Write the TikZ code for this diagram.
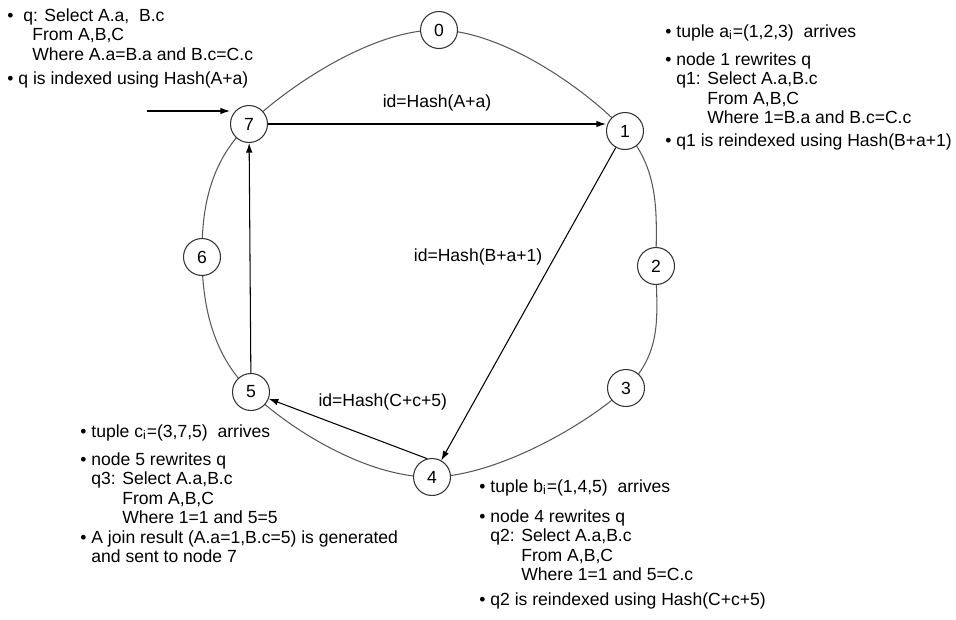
\documentclass[tikz,border=0pt]{standalone}
\usepackage{fontspec}
\setmainfont{Liberation Sans}
\usetikzlibrary{arrows.meta,backgrounds}
\tikzset{font=\fontsize{10pt}{11.1pt}\selectfont}
\tikzstyle{peer}=[circle,draw=black!80,fill=white,minimum size=0.74cm,inner sep=0pt,line width=0.6pt]
\tikzstyle{ring}=[draw=black!65,line width=0.6pt]
\tikzstyle{msg}=[->,line width=0.6pt,>={Latex[length=0.19cm,width=0.13cm]}]
\tikzstyle{notes}=[align=left,anchor=north west,inner sep=0pt]
\newcommand{\bul}{\textbullet\ }
\newcommand{\ind}{\hphantom{\textbullet\ }}

\begin{document}
\begin{tikzpicture}[x=0.02cm,y=-0.02cm]
\useasboundingbox (0,0) rectangle (956,619);
\node[peer] (n0) at (439,30) {0};
\node[peer] (n1) at (625,131) {1};
\node[peer] (n2) at (656,266) {2};
\node[peer] (n3) at (626,388) {3};
\node[peer] (n4) at (432,477) {4};
\node[peer] (n5) at (251,392) {5};
\node[peer] (n6) at (202,257) {6};
\node[peer] (n7) at (249,124) {7};
\coordinate (src) at (147,111);
\begin{scope}[on background layer]
\draw[ring] plot[smooth cycle,tension=0.62] coordinates {(n0.center) (n1.center) (n2.center) (n3.center)
  (n4.center) (n5.center) (n6.center) (n7.center)};
\end{scope}
% messages
\draw[msg] (src) -- (src -| n7.west);
\draw[msg] (n7) -- node[above=0.12cm]{id=Hash(A+a)} (n7 -| n1.west);
\draw[msg] (n1) -- node[pos=0.35,left=0.12cm]{id=Hash(B+a+1)} (n4);
\draw[msg] (n4.105) -- node[pos=0.28,above=0.5cm]{id=Hash(C+c+5)} (n5);
\draw[msg] (n5) -- (n7);
% notes
\node[notes] (qinit) at (7,8) {\textbullet\ \ q: Select A.a,~ B.c\\
\hspace*{0.5cm}From A,B,C\\
\hspace*{0.5cm}Where A.a=B.a and B.c=C.c\\[3pt]
\bul q is indexed using Hash(A+a)};
\node[notes] (qone) at (665,24) {\bul tuple a\textsubscript{i}=(1,2,3)~ arrives\\[5pt]
\bul node 1 rewrites q\\
\ind q1: Select A.a,B.c\\
\ind\hphantom{q1: }From A,B,C\\
\ind\hphantom{q1: }Where 1=B.a and B.c=C.c\\[2pt]
\bul q1 is reindexed using Hash(B+a+1)};
\node[notes] (qthree) at (80,424) {\bul tuple c\textsubscript{i}=(3,7,5)~ arrives\\[5pt]
\bul node 5 rewrites q\\
\ind q3: Select A.a,B.c\\
\ind\hphantom{q3: }From A,B,C\\
\ind\hphantom{q3: }Where 1=1 and 5=5\\
\bul A join result (A.a=1,B.c=5) is generated\\
\ind and sent to node 7};
\node[notes] (qtwo) at (479,479) {\bul tuple b\textsubscript{i}=(1,4,5)~ arrives\\[6pt]
\bul node 4 rewrites q\\
\ind q2: Select A.a,B.c\\
\ind\hphantom{q2: }From A,B,C\\
\ind\hphantom{q2: }Where 1=1 and 5=C.c\\[3pt]
\bul q2 is reindexed using Hash(C+c+5)};
\end{tikzpicture}
\end{document}
